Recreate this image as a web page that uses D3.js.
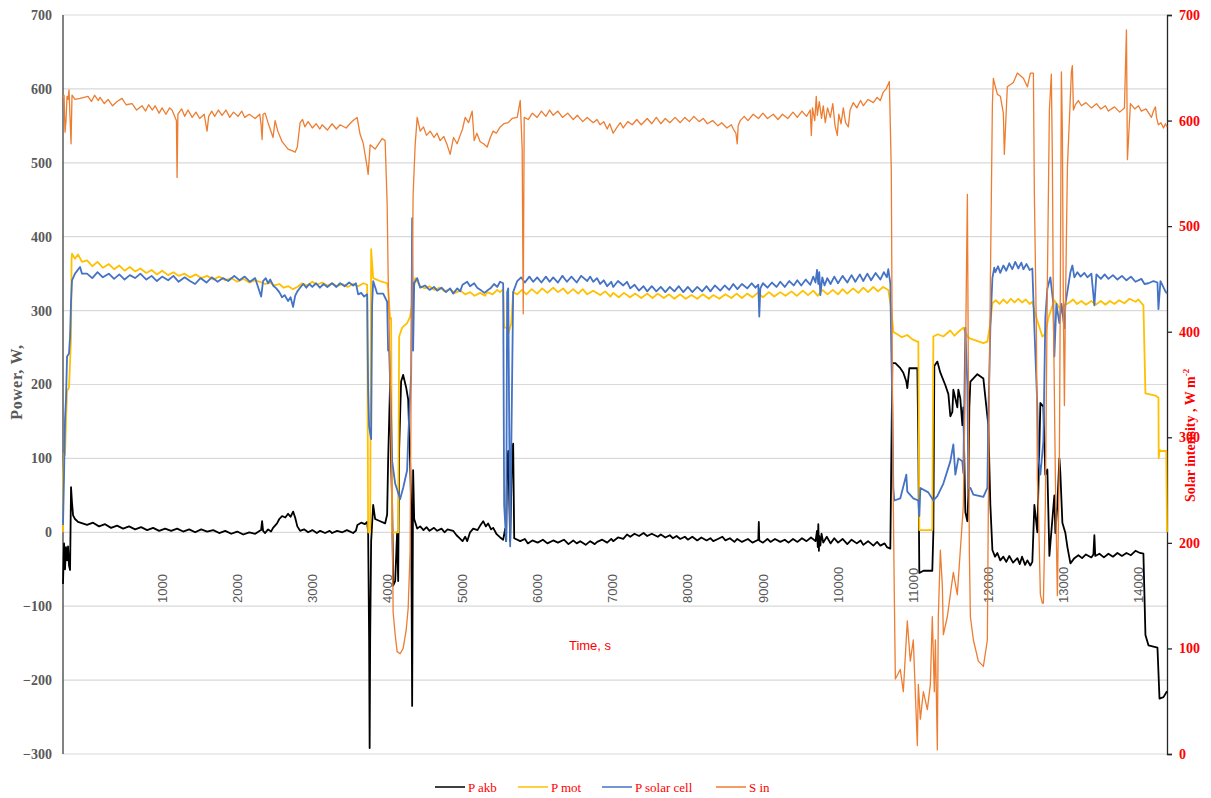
<!DOCTYPE html>
<html><head><meta charset="utf-8">
<script src="https://cdn.jsdelivr.net/npm/d3@7"></script>
<style>body{margin:0;background:#fff}</style>
</head><body>
<svg id="chart" width="1211" height="798"></svg>
<script>
// ---- data ----
const timeTicks = [1000,2000,3000,4000,5000,6000,7000,8000,9000,10000,11000,12000,13000,14000];
const powerTicks = [-300,-200,-100,0,100,200,300,400,500,600,700];
const solarTicks = [0,100,200,300,400,500,600,700];
const seriesNames = ["P akb","P mot","P solar cell","S in"];
const seriesColors = ["#000000","#FFC000","#4472C4","#ED7D31"];

// [time s, W]
const pAkb = [[-320,-70],[-306,-15],[-293,-50],[-280,-20],[-266,-38],[-253,-19],[-240,-45],[-226,-51],[-213,61],[-200,40],[-186,23],[-160,18],[-120,14],[-60,12],
[0,10],[80,13],[160,8],[240,11],[320,6],[400,9],[480,5],[560,8],[640,4],[720,7],[800,3],[880,6],[960,2],[1040,5],[1120,2],[1200,5],[1280,1],[1360,4],[1440,0],[1520,4],[1600,1],[1680,3],[1760,-1],[1840,2],[1920,-2],[2000,1],[2080,-3],[2160,0],[2240,-2],[2300,2],
[2318,3],[2331,15],[2344,2],[2371,-1],[2411,4],[2450,1],[2477,6],[2530,12],[2560,18],[2597,22],[2640,20],[2677,25],[2710,21],[2744,28],[2771,20],[2800,8],[2837,2],[2890,4],[2944,0],[3000,3],[3060,-1],[3104,2],[3170,-1],[3230,2],[3263,-1],[3330,2],[3400,0],[3460,3],[3543,-1],[3580,2],[3600,10],[3650,13],[3700,11],[3730,14],[3743,0],
[3756,-145],[3763,-292],[3770,-145],[3783,-12],[3810,37],[3836,18],[3903,15],[3969,12],[3996,24],[4009,96],[4036,204],[4049,96],[4063,37],[4076,-72],[4103,-66],[4129,0],[4143,-66],[4156,113],[4182,204],[4209,213],[4249,196],[4276,180],[4302,96],[4316,37],[4329,-235],[4342,84],
[4356,18],[4396,5],[4436,8],[4480,3],[4520,7],[4560,2],[4620,6],[4662,2],[4720,5],[4760,0],[4800,4],[4875,2],[4920,-4],[4960,-8],[5000,-12],[5035,-6],[5062,-12],[5100,0],[5142,5],[5200,3],[5240,10],[5275,15],[5310,8],[5340,12],[5380,4],[5408,6],[5450,-2],[5501,-7],[5541,-10],
[5568,5],[5581,-12],[5594,96],[5608,110],[5634,-12],[5661,113],[5674,120],[5688,-8],
[5768,-12],[5830,-9],[5870,-15],[5930,-11],[6000,-14],[6070,-10],[6130,-15],[6207,-11],[6270,-14],[6350,-10],[6410,-16],[6474,-11],[6520,-15],[6567,-12],[6640,-17],[6700,-12],[6760,-16],[6793,-13],[6860,-10],[6926,-14],[6980,-9],[7006,-12],[7070,-7],[7140,-9],[7190,-3],[7233,-6],[7290,-2],[7350,-5],[7410,-1],[7459,-5],[7520,-2],[7600,-6],[7640,-3],[7700,-7],[7760,-4],[7800,-8],[7850,-5],[7899,-9],[7960,-6],[8000,-10],[8060,-6],[8125,-11],[8180,-7],[8250,-11],[8300,-8],[8338,-12],[8400,-9],[8460,-6],[8500,-11],[8560,-8],[8620,-13],[8658,-9],[8720,-13],[8800,-9],[8860,-14],[8938,-10],[8945,14],[8951,-11],[9000,-14],[9060,-9],[9100,-13],[9160,-9],[9231,-13],[9290,-10],[9340,-14],[9400,-9],[9460,-13],[9520,-8],[9580,-12],[9640,-7],[9700,-12],[9720,2],[9730,-20],[9737,11],[9745,-25],[9750,-5],[9764,-18],[9780,-2],[9803,-14],[9850,-6],[9900,-15],[9950,-8],[10000,-14],[10060,-9],[10123,-16],[10180,-10],[10250,-15],[10300,-11],[10336,-17],[10400,-12],[10470,-18],[10520,-13],[10563,-18],[10620,-15],[10650,-20],[10696,-22],
[10709,96],[10723,229],[10763,229],[10829,222],[10869,216],[10909,204],[10922,195],[10949,222],[11056,222],[11069,119],[11082,-55],[11136,-52],[11255,-52],[11269,0],[11282,225],[11322,231],[11362,216],[11429,199],[11469,187],[11495,157],[11522,163],[11535,193],[11562,181],[11588,169],[11602,193],[11628,181],[11655,145],[11668,169],[11695,27],[11722,15],[11735,50],[11748,169],[11762,204],[11855,214],[11935,208],[11988,157],[12001,145],[12028,37],
[12055,-24],[12090,-33],[12121,-28],[12160,-38],[12201,-33],[12240,-40],[12280,-32],[12330,-41],[12388,-35],[12420,-43],[12450,-33],[12490,-44],[12521,-38],[12560,-45],[12587,-40],
[12614,37],[12654,0],[12694,175],[12734,170],[12760,78],[12787,85],[12814,-32],[12854,18],[12880,50],[12894,-1],[12920,37],[12947,100],[12960,80],[12987,13],[13027,-1],[13054,-20],
[13094,-42],[13147,-35],[13200,-31],[13250,-35],[13300,-30],[13373,-34],[13400,-30],[13413,-4],[13425,-32],[13480,-29],[13540,-34],[13600,-29],[13660,-33],[13720,-28],[13780,-32],[13840,-28],[13900,-31],[13960,-25],[14020,-28],[14066,-29],[14093,-139],[14133,-153],[14253,-156],[14266,-189],[14280,-225],[14333,-223],[14380,-215]];

const pMot = [[-320,0],[-319,75],[-306,107],[-293,105],[-280,150],[-266,191],[-240,196],[-226,229],[-213,265],[-206,368],[-200,377],[-160,370],[-120,376],[-67,366],
[0,368],[70,360],[140,366],[210,358],[290,363],[360,356],[430,361],[500,354],[570,359],[640,353],[710,357],[790,351],[860,355],[930,349],[1000,354],[1080,348],[1150,352],[1220,347],[1300,350],[1370,345],[1450,349],[1520,344],[1600,347],[1680,342],[1760,346],[1840,341],[1920,344],[2000,339],[2080,343],[2160,338],[2238,341],
[2300,339],[2371,336],[2440,338],[2500,334],[2560,336],[2620,331],[2680,333],[2744,329],[2800,332],[2864,337],[2930,334],[3000,339],[3060,335],[3130,338],[3200,334],[3263,337],[3330,333],[3400,336],[3470,332],[3543,336],[3610,333],[3680,337],[3730,335],
[3743,0],[3770,0],[3783,383],[3810,344],[3900,340],[3996,337],[4009,330],[4036,288],[4049,290],[4063,0],[4143,0],[4156,265],[4196,277],[4262,283],[4302,292],[4316,300],[4356,333],
[4369,344],[4436,333],[4500,330],[4560,333],[4620,328],[4700,331],[4760,326],[4835,329],[4900,324],[4968,327],[5035,322],[5102,325],[5160,320],[5235,324],[5300,320],[5328,325],[5400,322],[5461,328],[5500,325],[5541,329],
[5554,277],[5594,277],[5608,268],[5648,283],[5674,325],
[5728,322],[5790,328],[5850,322],[5920,329],[5994,323],[6060,330],[6130,324],[6207,331],[6270,325],[6340,330],[6400,323],[6474,329],[6540,323],[6600,329],[6660,322],[6740,327],[6833,321],[6900,326],[6970,319],[7006,324],[7080,318],[7150,324],[7230,318],[7300,323],[7380,317],[7459,323],[7530,317],[7600,323],[7680,317],[7750,322],[7820,316],[7899,322],[7970,316],[8050,321],[8125,316],[8200,322],[8280,316],[8338,321],[8420,316],[8500,322],[8580,317],[8650,323],[8720,317],[8791,323],[8860,318],[8930,324],[9000,318],[9080,325],[9150,319],[9231,325],[9300,320],[9380,326],[9450,320],[9530,327],[9600,321],[9670,327],[9730,320],[9790,328],[9860,322],[9930,328],[10000,322],[10060,329],[10123,323],[10200,330],[10270,324],[10336,331],[10400,325],[10470,332],[10530,326],[10600,332],[10669,328],
[10709,302],[10736,271],[10789,268],[10850,264],[10922,267],[10990,261],[11056,258],[11069,258],[11082,3],[11255,3],[11269,265],[11330,268],[11402,265],[11495,273],[11550,266],[11588,270],[11668,277],[11722,265],[11762,262],[11850,259],[11935,256],[11988,258],[12028,283],
[12055,310],[12100,314],[12150,309],[12201,315],[12250,310],[12300,316],[12350,311],[12400,316],[12450,311],[12500,315],[12550,309],[12587,312],
[12627,295],[12720,265],[12760,268],[12800,290],[12880,314],[12960,302],[13027,308],
[13080,311],[13130,315],[13180,309],[13240,313],[13300,308],[13373,313],[13430,308],[13500,313],[13560,308],[13620,313],[13680,309],[13740,314],[13813,310],[13880,316],[13960,312],[14000,315],[14066,307],[14093,188],[14226,185],[14266,182],[14270,100],[14280,112],[14293,110],[14370,110],[14380,0]];

const pSolar = [[-320,10],[-306,77],[-293,153],[-280,181],[-266,238],[-240,242],[-226,265],[-213,312],[-200,341],[-160,350],[-93,359],[-67,350],
[0,350],[70,344],[140,352],[210,345],[290,350],[360,343],[430,349],[500,342],[570,348],[640,344],[710,350],[790,342],[860,347],[930,340],[1000,346],[1080,341],[1150,347],[1220,339],[1300,345],[1370,340],[1439,336],[1510,344],[1590,338],[1660,345],[1740,339],[1810,344],[1880,340],[1960,347],[2030,341],[2100,346],[2170,339],[2238,344],
[2318,319],[2344,340],[2380,344],[2411,337],[2440,342],[2477,334],[2520,330],[2560,325],[2597,318],[2630,321],[2677,313],[2710,318],[2744,305],[2771,320],[2800,326],[2837,331],[2880,336],[2920,331],[2960,336],[3000,332],[3050,337],[3100,331],[3150,336],[3200,332],[3263,337],[3320,332],[3370,337],[3430,333],[3490,338],[3543,334],[3580,337],[3610,322],[3650,324],[3690,319],[3730,322],
[3743,192],[3756,143],[3783,126],[3796,307],[3810,340],[3863,323],[3943,323],[3996,312],[4009,246],[4023,246],[4049,156],[4063,96],[4103,66],[4169,45],[4209,60],[4262,84],[4276,126],[4316,216],[4329,425],[4342,246],[4356,337],
[4396,344],[4436,331],[4500,334],[4560,328],[4620,332],[4662,327],[4720,331],[4780,325],[4835,330],[4875,323],[4930,330],[4968,326],[5000,335],[5062,339],[5100,333],[5155,337],[5195,331],[5240,328],[5290,324],[5328,327],[5380,331],[5420,336],[5461,332],[5500,339],[5541,337],
[5554,37],[5581,-12],[5594,325],[5608,330],[5634,-19],[5661,216],[5674,325],
[5728,340],[5780,345],[5830,338],[5890,346],[5940,339],[5994,345],[6050,338],[6110,346],[6160,339],[6207,345],[6270,338],[6330,347],[6390,339],[6450,346],[6520,338],[6580,347],[6660,340],[6700,346],[6740,339],[6790,344],[6833,336],[6880,341],[6926,333],[6980,339],[7006,332],[7070,340],[7140,334],[7190,339],[7233,330],[7290,335],[7350,327],[7410,333],[7459,326],[7520,333],[7580,326],[7640,332],[7700,325],[7760,332],[7820,326],[7880,333],[7940,325],[8000,332],[8060,325],[8125,332],[8190,326],[8250,333],[8300,326],[8360,334],[8432,327],[8490,334],[8550,328],[8605,336],[8660,329],[8720,336],[8791,330],[8850,337],[8900,331],[8938,335],[8951,292],[8965,330],[9000,337],[9060,331],[9120,338],[9180,332],[9231,339],[9290,332],[9350,340],[9410,334],[9457,341],[9510,334],[9570,342],[9630,335],[9670,346],[9700,338],[9720,355],[9737,336],[9750,352],[9764,321],[9790,345],[9820,334],[9857,344],[9900,336],[9950,346],[10000,337],[10060,347],[10123,338],[10180,348],[10230,339],[10290,349],[10336,340],[10390,350],[10440,341],[10500,351],[10563,342],[10610,352],[10650,345],[10669,356],[10696,337],
[10709,246],[10723,169],[10736,60],[10749,43],[10829,46],[10909,78],[10922,55],[11002,46],[11069,43],[11082,22],[11096,60],[11202,54],[11269,43],[11322,49],[11402,66],[11495,96],[11535,119],[11562,78],[11602,100],[11655,96],[11668,80],[11695,277],[11722,200],[11735,60],[11762,60],[11802,51],[11935,48],[11988,60],[12001,157],[12028,277],
[12055,344],[12080,358],[12095,352],[12130,360],[12160,351],[12201,361],[12240,354],[12280,364],[12320,356],[12360,366],[12400,357],[12440,365],[12468,356],[12510,363],[12550,355],[12587,357],
[12614,277],[12654,169],[12667,103],[12694,78],[12734,123],[12760,290],[12787,330],[12827,345],[12867,309],[12880,238],[12907,309],[12947,283],[12974,309],[13014,276],[13027,309],[13054,326],[13094,352],[13120,361],[13147,345],
[13187,352],[13230,346],[13280,351],[13320,345],[13373,350],[13413,307],[13440,349],[13500,343],[13550,349],[13600,343],[13660,348],[13720,342],[13780,347],[13840,341],[13900,346],[13960,339],[14039,343],[14080,336],[14133,337],[14200,340],[14253,338],[14266,302],[14293,340],[14359,326],[14380,323]];

// [time s, W m-2]
const sIn = [[-320,622],[-306,624],[-293,589],[-280,600],[-266,623],[-253,620],[-240,629],[-213,578],[-200,624],[-160,620],[-93,621],
[13,623],[60,618],[100,624],[150,619],[173,622],[230,616],[280,620],[340,614],[400,618],[466,621],[520,615],[600,616],[660,610],[733,614],[780,609],[820,615],[870,610],[906,614],[960,607],[1000,612],[1050,606],[1100,612],[1132,610],[1190,600],[1199,546],[1210,606],[1260,611],[1300,604],[1345,610],[1400,603],[1450,608],[1500,602],[1560,606],[1598,590],[1620,604],[1660,609],[1700,604],[1750,610],[1798,605],[1850,610],[1900,603],[1950,608],[2011,604],[2060,609],[2100,603],[2160,606],[2238,602],[2300,606],
[2318,596],[2331,582],[2344,606],[2371,607],[2410,598],[2477,584],[2504,600],[2540,590],[2597,580],[2677,573],[2744,571],[2771,570],[2800,575],[2837,598],
[2870,601],[2900,594],[2944,599],[3000,593],[3050,597],[3100,592],[3130,596],[3200,591],[3263,597],[3320,592],[3370,596],[3450,593],[3500,597],[3543,600],[3596,603],
[3636,587],[3676,579],[3730,556],[3743,549],[3770,577],[3836,573],[3929,583],[3969,581],[3996,522],[4009,455],[4036,359],[4063,236],[4076,134],[4103,113],[4129,97],[4169,95],[4209,100],[4249,117],[4276,138],[4302,193],[4316,359],[4342,530],[4369,577],
[4396,603],[4436,590],[4480,594],[4520,586],[4569,590],[4620,584],[4660,588],[4702,581],[4750,585],[4795,577],[4835,568],[4880,584],[4928,578],[4968,586],[5000,592],[5035,603],[5080,598],[5128,609],[5155,581],[5190,588],[5235,580],[5280,578],[5328,575],[5370,584],[5408,590],[5450,588],[5501,594],[5550,597],[5608,598],[5660,602],[5728,603],[5768,619],[5794,573],[5808,417],[5821,603],
[5874,601],[5930,607],[5994,603],[6050,609],[6110,604],[6160,610],[6207,605],[6270,609],[6330,603],[6400,607],[6474,601],[6530,605],[6600,599],[6660,603],[6740,598],[6790,601],[6833,596],[6880,599],[6926,592],[6960,597],[7006,588],[7060,594],[7100,598],[7140,593],[7200,599],[7260,596],[7320,601],[7380,596],[7459,602],[7520,597],[7580,603],[7640,597],[7700,602],[7760,598],[7830,603],[7899,598],[7960,603],[8020,599],[8080,604],[8150,599],[8205,602],[8260,597],[8330,600],[8400,595],[8450,598],[8520,593],[8580,596],[8605,592],[8640,588],[8658,578],[8670,595],[8698,600],[8750,604],[8800,600],[8871,606],[8940,602],[9000,607],[9060,602],[9138,606],[9200,601],[9260,606],[9330,602],[9400,608],[9457,603],[9520,609],[9580,604],[9630,610],[9644,586],[9660,612],[9690,600],[9710,623],[9724,605],[9750,618],[9780,602],[9803,614],[9830,598],[9860,612],[9897,603],[9930,616],[9960,595],[9990,586],[10010,606],[10040,597],[10070,612],[10100,598],[10137,594],[10160,610],[10203,617],[10250,612],[10300,619],[10336,614],[10400,620],[10470,617],[10520,622],[10563,619],[10603,627],[10640,630],[10683,637],
[10709,552],[10723,359],[10736,236],[10749,151],[10763,71],[10829,80],[10869,59],[10922,126],[10962,88],[11002,108],[11056,8],[11069,66],[11096,33],[11136,59],[11189,42],[11229,66],[11255,130],[11282,59],[11296,108],[11322,4],[11335,130],[11362,193],[11389,159],[11402,113],[11455,130],[11495,151],[11535,172],[11588,151],[11628,193],[11668,235],[11695,359],[11708,446],[11722,530],[11735,359],[11748,193],[11762,130],[11802,108],[11868,88],[11935,83],[11988,108],[12001,235],[12028,446],[12055,615],[12068,640],[12095,632],[12121,625],[12161,623],[12201,607],[12214,568],[12254,632],[12334,636],[12388,645],[12468,640],[12521,632],[12561,645],[12601,645],[12614,530],[12641,400],[12654,260],[12667,235],[12694,151],[12720,143],[12734,143],[12760,235],[12787,446],[12814,610],[12840,644],[12854,560],[12867,420],[12894,260],[12920,150],[12947,280],[12960,446],[12974,646],[12987,590],[13000,420],[13014,330],[13027,420],[13054,556],[13080,600],[13107,646],[13120,652],[13134,610],
[13160,615],[13200,619],[13240,614],[13300,617],[13373,612],[13440,616],[13500,611],[13560,614],[13600,609],[13680,613],[13750,608],[13813,612],[13840,686],[13853,563],[13893,616],[13950,611],[14000,614],[14039,609],[14100,611],[14173,603],[14200,609],[14226,613],[14240,603],[14266,596],[14300,598],[14333,593],[14360,597],[14380,594]];

// ---- chart ----
const svg = d3.select("#chart");
const L = 63, R = 1167, T = 15, B = 754;
const x = d3.scaleLinear().domain([-320, 14380]).range([L, R]);
const yL = d3.scaleLinear().domain([-300, 700]).range([B, T]);
const yR = d3.scaleLinear().domain([0, 700]).range([B, T]);
const serif = "'Liberation Serif','Times New Roman',serif";
const sans = "'Liberation Sans',Arial,sans-serif";

// gridlines
svg.append("g").selectAll("line").data(powerTicks).join("line")
  .attr("x1", L).attr("x2", R)
  .attr("y1", d => yL(d)).attr("y2", d => yL(d))
  .attr("stroke", "#d9d9d9").attr("stroke-width", 1.2);

// left axis labels
const gl = svg.append("g").attr("transform", `translate(${L},0)`)
  .call(d3.axisLeft(yL).tickValues(powerTicks).tickSize(0).tickPadding(11).tickFormat(d3.format("d")));
gl.select(".domain").remove();
gl.selectAll("text").attr("font-family", serif).attr("font-weight", "bold")
  .attr("font-size", 14).attr("fill", "#595959");

// right axis
const gr = svg.append("g").attr("transform", `translate(${R},0)`)
  .call(d3.axisRight(yR).tickValues(solarTicks).tickSize(5).tickPadding(7).tickFormat(d3.format("d")));
gr.select(".domain").attr("stroke", "#262626").attr("stroke-width", 1.3);
gr.selectAll("line").attr("stroke", "#262626").attr("stroke-width", 1.3);
gr.selectAll("text").attr("font-family", serif).attr("font-weight", "bold")
  .attr("font-size", 14).attr("fill", "#ff0000");

// left axis line
svg.append("line").attr("x1", L).attr("x2", L).attr("y1", T).attr("y2", B)
  .attr("stroke", "#404040").attr("stroke-width", 1.3);

// x tick labels (rotated)
svg.append("g").selectAll("text").data(timeTicks).join("text")
  .attr("transform", d => `translate(${x(d)},603) rotate(-90)`)
  .attr("dy", "0.35em").attr("text-anchor", "start")
  .attr("font-family", sans).attr("font-size", 13).attr("fill", "#595959")
  .text(d => d);

// lines
const lineL = d3.line().x(d => x(d[0])).y(d => yL(d[1]));
const lineR = d3.line().x(d => x(d[0])).y(d => yR(d[1]));
const plot = svg.append("g");
[[pAkb, 0, lineL, 1.8], [pMot, 1, lineL, 1.8], [pSolar, 2, lineL, 1.8], [sIn, 3, lineR, 1.3]].forEach(([data, i, gen, w]) => {
  plot.append("path").datum(data).attr("d", gen).attr("fill", "none")
    .attr("stroke", seriesColors[i]).attr("stroke-width", w).attr("stroke-linejoin", "round");
});

// axis titles
svg.append("text").attr("transform", "translate(22,382) rotate(-90)")
  .attr("text-anchor", "middle").attr("font-family", serif).attr("font-weight", "bold")
  .attr("font-size", 16).attr("letter-spacing", 0.8).attr("fill", "#595959").text("Power, W,");
const rt = svg.append("text").attr("transform", "translate(1195,502) rotate(-90)")
  .attr("text-anchor", "start").attr("font-family", serif).attr("font-weight", "bold")
  .attr("font-size", 14).attr("fill", "#ff0000");
rt.append("tspan").text("Solar intensity , W m");
rt.append("tspan").attr("font-size", 9).attr("dy", -6).text("-2");

svg.append("text").attr("x", 590).attr("y", 650).attr("text-anchor", "middle")
  .attr("font-family", sans).attr("font-size", 13).attr("fill", "#ff0000").text("Time, s");

// legend
const legX = [435, 518, 602, 716];
const lg = svg.append("g").selectAll("g").data(seriesNames).join("g")
  .attr("transform", (d, i) => `translate(${legX[i]},787)`);
lg.append("line").attr("x1", 0).attr("x2", 30).attr("y1", 0).attr("y2", 0)
  .attr("stroke", (d, i) => seriesColors[i]).attr("stroke-width", 1.5);
lg.append("text").attr("x", 33).attr("y", 4.5).attr("font-family", serif)
  .attr("font-size", 13).attr("fill", "#ff0000").text(d => d);
</script>
</body></html>
